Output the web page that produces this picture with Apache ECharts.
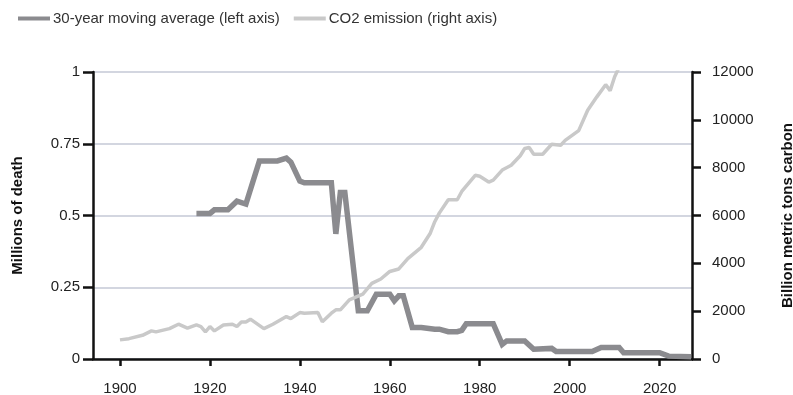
<!DOCTYPE html>
<html>
<head>
<meta charset="utf-8">
<script src="https://cdn.jsdelivr.net/npm/echarts@6/dist/echarts.min.js"></script>
<style>
  html, body { margin: 0; padding: 0; background: #ffffff; }
  #chart { width: 793px; height: 395px; }
</style>
</head>
<body>
<div id="chart"></div>
<script>
// ---- data ----
const maYears = [1917, 1920, 1921, 1924, 1926, 1928, 1931, 1935, 1937, 1938, 1940, 1941, 1947, 1948, 1949, 1950, 1953, 1955, 1957, 1960, 1961, 1962, 1963, 1965, 1967, 1970, 1971, 1973, 1975, 1976, 1977, 1983, 1985, 1986, 1990, 1992, 1996, 1997, 2005, 2007, 2011, 2012, 2020, 2022, 2027];
const maValues = [0.507, 0.507, 0.52, 0.52, 0.55, 0.54, 0.69, 0.69, 0.70, 0.686, 0.62, 0.614, 0.614, 0.436, 0.58, 0.58, 0.168, 0.168, 0.226, 0.226, 0.203, 0.22, 0.22, 0.11, 0.11, 0.104, 0.104, 0.095, 0.095, 0.1, 0.123, 0.123, 0.051, 0.063, 0.063, 0.034, 0.037, 0.026, 0.026, 0.04, 0.04, 0.022, 0.022, 0.01, 0.008];

const co2Years = [1900, 1902, 1905, 1907, 1908, 1911, 1913, 1915, 1917, 1918, 1919, 1920, 1921, 1923, 1925, 1926, 1927, 1928, 1929, 1932, 1934, 1937, 1938, 1940, 1941, 1944, 1945, 1947, 1948, 1949, 1951, 1954, 1956, 1958, 1960, 1962, 1964, 1967, 1969, 1970, 1971, 1973, 1975, 1976, 1979, 1980, 1982, 1983, 1985, 1987, 1989, 1990, 1991, 1992, 1994, 1996, 1998, 1999, 2002, 2004, 2006, 2008, 2009, 2010, 2011];
const co2Values = [800, 850, 990, 1175, 1135, 1270, 1455, 1290, 1425, 1355, 1135, 1355, 1175, 1425, 1455, 1360, 1550, 1550, 1665, 1270, 1455, 1775, 1690, 1940, 1915, 1940, 1555, 1915, 2055, 2055, 2470, 2715, 3160, 3345, 3660, 3765, 4200, 4670, 5260, 5740, 6100, 6660, 6660, 7005, 7680, 7640, 7400, 7480, 7900, 8100, 8500, 8800, 8840, 8560, 8560, 8980, 8940, 9140, 9550, 10400, 10950, 11470, 11220, 11800, 12200];

const xTicks = [1900, 1920, 1940, 1960, 1980, 2000, 2020];
const leftTicks = [0, 0.25, 0.5, 0.75, 1];
const rightTicks = [0, 2000, 4000, 6000, 8000, 10000, 12000];

const seriesNames = ['30-year moving average (left axis)', 'CO2 emission (right axis)'];
const axisNames = ['Millions of death', 'Billion metric tons carbon'];

// ---- chart ----
const FONT = 'Liberation Sans, Arial, Helvetica, sans-serif';
const chart = echarts.init(document.getElementById('chart'), null, { renderer: 'canvas' });

const pair = (xs, ys) => xs.map((x, i) => [x, ys[i]]);
const plain = v => String(v);

chart.setOption({
  animation: false,
  backgroundColor: '#ffffff',
  textStyle: { fontFamily: FONT },
  legend: {
    left: 13,
    top: 6,
    itemWidth: 32,
    itemHeight: 4,
    itemGap: 14,
    icon: 'rect',
    textStyle: { fontFamily: FONT, fontSize: 15, color: '#333333', padding: [0, 0, 0, -2] },
    data: seriesNames
  },
  grid: { left: 93, right: 101, top: 72, bottom: 36, outerBoundsMode: 'none', containLabel: false },
  xAxis: {
    type: 'value',
    min: 1894,
    max: 2027.2,
    splitLine: { show: false },
    axisLine: { show: true, onZero: false, lineStyle: { color: '#111111', width: 2.5 } },
    axisTick: { show: true, length: 7, customValues: xTicks, lineStyle: { color: '#111111', width: 2.5 } },
    axisLabel: { customValues: xTicks, formatter: plain, margin: 22, fontSize: 15, color: '#222222', fontFamily: FONT }
  },
  yAxis: [
    {
      type: 'value',
      position: 'left',
      min: 0,
      max: 1,
      interval: 0.25,
      name: axisNames[0],
      nameLocation: 'middle',
      nameRotate: 90,
      nameGap: 68,
      nameTextStyle: { fontFamily: FONT, fontSize: 15, fontWeight: 'bold', color: '#111111' },
      axisLine: { show: true, lineStyle: { color: '#111111', width: 2.5 } },
      axisTick: { show: true, length: 10, lineStyle: { color: '#111111', width: 2.5 } },
      axisLabel: { customValues: leftTicks, margin: 13, fontSize: 15, color: '#222222', fontFamily: FONT },
      splitLine: { show: true, lineStyle: { color: '#c4c9d6', width: 1.5 } }
    },
    {
      type: 'value',
      position: 'right',
      min: 0,
      max: 12000,
      interval: 2000,
      name: axisNames[1],
      nameLocation: 'middle',
      nameRotate: 90,
      nameGap: 88,
      nameTextStyle: { fontFamily: FONT, fontSize: 15, fontWeight: 'bold', color: '#111111' },
      axisLine: { show: true, lineStyle: { color: '#111111', width: 2.5 } },
      axisTick: { show: true, length: 9, lineStyle: { color: '#111111', width: 2.5 } },
      axisLabel: { customValues: rightTicks, formatter: plain, margin: 20, fontSize: 15, color: '#222222', fontFamily: FONT },
      splitLine: { show: false }
    }
  ],
  series: [
    {
      name: seriesNames[0],
      type: 'line',
      yAxisIndex: 0,
      data: pair(maYears, maValues),
      showSymbol: false,
      symbol: 'none',
      z: 3,
      color: '#8b8b8f',
      lineStyle: { color: '#8b8b8f', width: 5.5, join: 'miter' }
    },
    {
      name: seriesNames[1],
      type: 'line',
      yAxisIndex: 1,
      data: pair(co2Years, co2Values),
      showSymbol: false,
      symbol: 'none',
      clip: true,
      z: 4,
      color: '#c9c9c9',
      lineStyle: { color: '#c9c9c9', width: 3.5 }
    }
  ]
});
</script>
</body>
</html>
